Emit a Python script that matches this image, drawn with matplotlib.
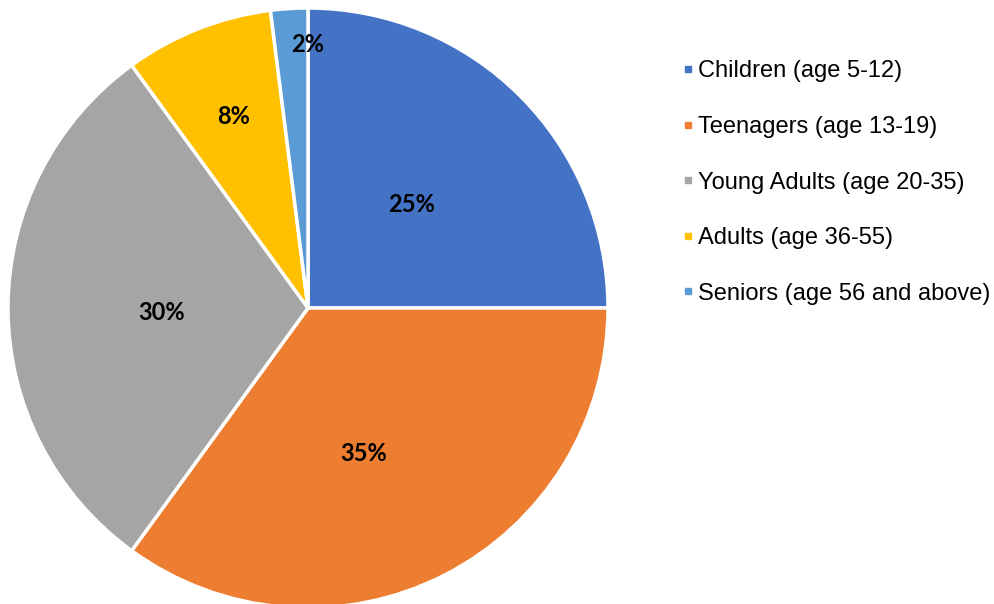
import numpy as np
import matplotlib
matplotlib.use("Agg")
import matplotlib.pyplot as plt
from matplotlib.lines import Line2D

categories = ["Children (age 5-12)", "Teenagers (age 13-19)", "Young Adults (age 20-35)",
              "Adults (age 36-55)", "Seniors (age 56 and above)"]
shares = [25, 35, 30, 8, 2]
colors = ["#4472C4", "#ED7D31", "#A5A5A5", "#FFC000", "#5B9BD5"]

# placement of each percentage label: fraction of radius and angular nudge (deg)
label_radius = [0.49, 0.52, 0.487, 0.684, 0.88]
label_nudge = [0.0, -6.0, 1.6, -0.2, -3.6]

W, H = 995, 604
fig = plt.figure(figsize=(W / 100, H / 100), dpi=100)
R = 300
cx, cy = 308, H - 308
ax = fig.add_axes([(cx - R) / W, (cy - R) / H, 2 * R / W, 2 * R / H])

wedges, _ = ax.pie(shares, colors=colors, startangle=90, counterclock=False,
                   radius=1, wedgeprops=dict(edgecolor="white", linewidth=2.5))
ax.set_xlim(-1, 1)
ax.set_ylim(-1, 1)
ax.set_aspect("equal")
ax.axis("off")

for w, v, rf, dn in zip(wedges, shares, label_radius, label_nudge):
    mid = np.deg2rad((w.theta1 + w.theta2) / 2 + dn)
    ax.text(rf * np.cos(mid), rf * np.sin(mid), f"{v}%", ha="center", va="center",
            fontsize=17, fontweight="bold", family="Lato", color="black")

handles = [Line2D([], [], linestyle="none", marker="s", markersize=4.5,
                  markerfacecolor=c, markeredgecolor=c) for c in colors]
fig.legend(handles, categories, loc="upper left", bbox_to_anchor=(673.5 / W, 1 - 51 / H),
           frameon=False, prop={"family": "Liberation Sans", "size": 17},
           labelspacing=1.42, handlelength=0.45, handletextpad=0.17, borderaxespad=0)

fig.savefig("out.png", dpi=100)
